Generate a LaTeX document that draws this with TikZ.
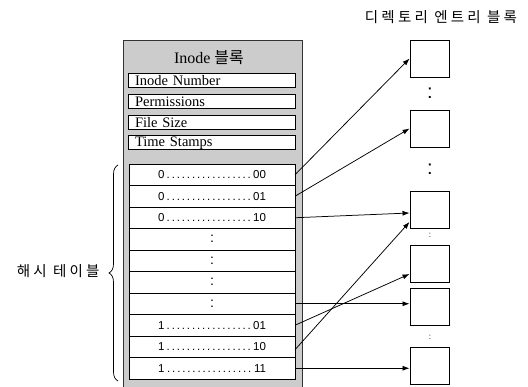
\documentclass[tikz,border=0pt]{standalone}
\usepackage{fontspec}
\setmainfont{Liberation Serif}
\newfontfamily\hangul[LetterSpace=22]{Noto Sans CJK KR}
\newfontfamily\hangulplain{Noto Sans CJK KR}
\newfontfamily\keyfont{Liberation Sans}
\usetikzlibrary{arrows.meta, positioning, decorations.pathreplacing}

\newcommand{\hashkey}[2]{\makebox[108pt]{#1\dotfill#2}}

\begin{document}
\begin{tikzpicture}[
    x=1pt, y=-1pt,
    node distance=0pt,
    inodebox/.style={rectangle, draw=black!80, fill=black!20, line width=0.8pt, minimum width=179pt, minimum height=352pt, inner sep=0pt},
    field/.style={rectangle, draw, fill=white, line width=0.8pt, minimum height=14pt, inner xsep=7pt, inner ysep=0pt, text width=153pt, align=left, font=\fontsize{14.5}{15}\selectfont},
    hashrow/.style={rectangle, draw, fill=white, line width=0.8pt, outer sep=0pt, minimum width=166pt, minimum height=21.5pt, inner sep=0pt, font=\keyfont\fontsize{11.5}{12}\selectfont},
    dirblock/.style={rectangle, draw, fill=white, line width=0.9pt, minimum width=39pt, minimum height=37pt, inner sep=0pt},
    gap/.style={inner sep=0pt, font=\keyfont\fontsize{#1}{#1}\selectfont},
    link/.style={-{Latex[length=7pt,width=5pt]}, line width=0.75pt}
]
\useasboundingbox (0,0) rectangle (528,387);

% inode block
\node[inodebox] (inode) at (212.5,216) {};
\node[font=\fontsize{16}{17}\selectfont] (inodetitle) at (209,58) {Inode {\hangulplain 블록}};
\node[field] (num) at (211.5,80.5) {Inode Number};
\node[field, below=6pt of num] (perm) {Permissions};
\node[field, below=6pt of perm] (size) {File Size};
\node[field, below=6pt of size] (stamp) {Time Stamps};

% hash table rows
\node[hashrow] (row1) at (212,174.75) {\hashkey{0}{00}};
\node[hashrow, below=of row1] (row2) {\hashkey{0}{01}};
\node[hashrow, below=of row2] (row3) {\hashkey{0}{10}};
\node[hashrow, below=of row3, font=\keyfont\fontsize{14}{14}\selectfont] (row4) {:};
\node[hashrow, below=of row4, font=\keyfont\fontsize{14}{14}\selectfont] (row5) {:};
\node[hashrow, below=of row5, font=\keyfont\fontsize{14}{14}\selectfont] (row6) {:};
\node[hashrow, below=of row6, font=\keyfont\fontsize{14}{14}\selectfont] (row7) {:};
\node[hashrow, below=of row7] (row8) {\hashkey{1}{01}};
\node[hashrow, below=of row8] (row9) {\hashkey{1}{10}};
\node[hashrow, below=of row9] (row10) {\hashkey{1}{11}};

% brace and label
\coordinate (bracetop) at (118,165);
\coordinate (bracebot) at (118,381);
\draw[line width=0.7pt, decorate, decoration={brace, amplitude=9pt}] (bracebot) -- (bracetop);
\node[anchor=east, font=\hangul\fontsize{14.5}{16}\selectfont] (hashlabel) at (103,271) {해시 테이블};

% directory entry blocks
\node[font=\hangul\fontsize{14.5}{15}\selectfont] (dirtitle) at (441,17) {디렉토리 엔트리 블록};
\node[dirblock] (blk1) at (429.5,58.5) {};
\node[dirblock] (blk2) at (429.5,128.5) {};
\node[dirblock] (blk3) at (429.5,210) {};
\node[dirblock] (blk4) at (429.5,263.5) {};
\node[dirblock] (blk5) at (429.5,307) {};
\node[dirblock] (blk6) at (429.5,365.5) {};
\node[gap=20] (gap1) at (430,93) {:};
\node[gap=20] (gap2) at (430,169.5) {:};
\node[gap=8] (gap3) at (430,235.5) {:};
\node[gap=8] (gap4) at (430,337) {:};

% links
\draw[link] (row1.east) -- (blk1.west);
\draw[link] (row2.east) -- (blk2.west);
\draw[link] (row3.east) -- ([yshift=-3pt]blk3.west);
\draw[link] ([yshift=-3pt]row9.east) -- ([yshift=-12pt]blk3.west);
\draw[link] (row8.east) -- ([yshift=-10.5pt]blk4.west);
\draw[link] (row7.east) -- (row7.east -| blk5.west);
\draw[link] (row10.east) -- (row10.east -| blk6.west);
\end{tikzpicture}
\end{document}
